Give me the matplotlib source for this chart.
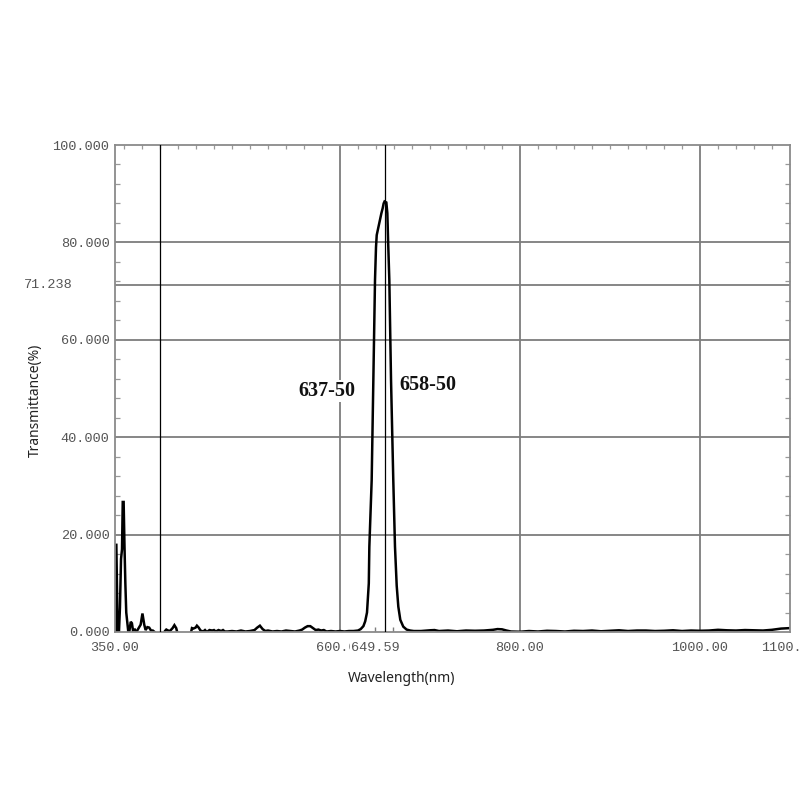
import matplotlib
matplotlib.use("Agg")
import matplotlib.pyplot as plt
import matplotlib.transforms as mtrans
from matplotlib.ticker import MultipleLocator, FixedLocator

# ---------------- data ----------------
wavelength = [350.0, 350.4, 351.5, 352.3, 352.8, 354.4, 355.5, 356.7, 357.8, 358.6, 359.6,
              360.5, 361.5, 362.5, 364.8, 366, 367.5, 368.8, 370, 372, 373.5, 375, 378.5,
              380.5, 382.5, 384, 386, 388, 390, 392, 394, 396, 404, 405.5, 407, 409, 411,
              414, 416, 418, 419.5, 421, 434, 435.5, 437, 439.5, 441, 443, 445, 448, 450,
              452, 455, 458, 460, 462, 465, 468, 470, 472, 475, 480, 485, 490, 495, 500,
              505, 508, 511, 514, 517, 520, 525, 530, 535, 540, 545, 550, 555, 558, 561,
              564, 567, 570, 573, 576, 579, 582, 585, 590, 595, 600, 605, 610, 615, 620,
              623, 626, 628, 630, 632, 632.6, 634, 635.2, 637, 638.9, 640, 640.8, 642.5,
              644.4, 646, 647.4, 648.5, 649.5, 650.5, 651.5, 652.6, 653.5, 654.8, 656.7,
              659.2, 661.1, 663, 664.8, 667, 670.3, 674, 678, 682, 690, 700, 705, 710,
              720, 730, 740, 750, 760, 770, 775, 780, 785, 790, 800, 810, 820, 830, 840,
              850, 860, 870, 880, 890, 900, 910, 920, 930, 940, 950, 960, 970, 980, 990,
              1000, 1010, 1020, 1030, 1040, 1050, 1060, 1070, 1080, 1090, 1100]
transmittance = [0, 17.9, 17.9, 8, 0, 0, 5, 15, 17, 26.7, 26.7,
                 18, 10, 4, 0, 0.2, 2.1, 1.8, 0.3, 0.5, 0, 0.4, 1.5,
                 3.8, 1.5, 0.4, 1.0, 0.9, 0.3, 0.3, 0, -0.5, -0.5, 0.2, 0.5, 0.3, 0.2,
                 0.8, 1.4, 0.8, -0.3, -0.5, -0.5, 0.8, 0.7, 0.9, 1.3, 0.9, 0.3, 0.1, 0.4,
                 0.0, 0.4, 0.3, 0.4, 0.1, 0.4, 0.2, 0.4, 0.1, 0.1, 0.2, 0.1, 0.3, 0.1, 0.2,
                 0.4, 0.9, 1.3, 0.6, 0.2, 0.3, 0.1, 0.2, 0.1, 0.3, 0.2, 0.1, 0.3, 0.5, 0.9,
                 1.2, 1.2, 0.8, 0.4, 0.5, 0.3, 0.4, 0.1, 0.2, 0.1, 0.2, 0.1, 0.2, 0.2, 0.3,
                 0.6, 1.2, 2.2, 4.0, 10, 17.5, 25, 31.2, 51.7, 72.3, 79, 81.5, 83,
                 84.6, 86, 87, 88, 88.4, 88.3, 88.2, 86, 80, 72.3, 51.7,
                 31.2, 17.5, 9.5, 5.2, 2.5, 1.1, 0.5, 0.3, 0.2, 0.2, 0.35, 0.4, 0.2,
                 0.3, 0.15, 0.3, 0.25, 0.3, 0.45, 0.6, 0.55, 0.3, 0.1, 0.05, 0.2, 0.1, 0.25, 0.2,
                 0.1, 0.25, 0.2, 0.3, 0.15, 0.25, 0.35, 0.2, 0.3, 0.3, 0.2, 0.25, 0.35, 0.2, 0.3,
                 0.25, 0.3, 0.45, 0.35, 0.3, 0.4, 0.35, 0.3, 0.45, 0.7, 0.8]

x_ticks = [350, 600, 649.59, 800, 1000, 1100]
x_tick_labels = ["350.00", "600.00", "649.59", "800.00", "1000.00", "1100.00"]
y_ticks = [0, 20, 40, 60, 80, 100]
y_tick_labels = ["0.000", "20.000", "40.000", "60.000", "80.000", "100.000"]
grid_x_gray = [600, 800, 1000]
cursor_x = [400, 649.59]
grid_y = [20, 40, 60, 71.238, 80]
cursor_y_value = 71.238
band_edges = [638.5, 659.0]
annotations = [("637-50", 617.0, 49.5, "right"), ("658-50", 666.5, 50.7, "left")]

# ---------------- figure ----------------
fig = plt.figure(figsize=(8, 8), dpi=100)
fig.patch.set_facecolor("white")
ax = fig.add_axes([115 / 800, 1 - 632 / 800, 675 / 800, 487 / 800])
ax.set_xlim(350, 1100)
ax.set_ylim(0, 100)

gray = "#7d7d7d"
for gy in grid_y:
    ax.axhline(gy, color=gray, lw=1.3, zorder=1)
for gx in grid_x_gray:
    ax.axvline(gx, color=gray, lw=1.3, zorder=1)
for cx in cursor_x:
    ax.axvline(cx, color="black", lw=0.9, zorder=3)

ax.plot(wavelength, transmittance, color="black", lw=1.8, zorder=2, solid_joinstyle="miter")

ax.vlines(band_edges, 0, 0.01, transform=ax.get_xaxis_transform(), color=gray, lw=1.0)

for sp in ax.spines.values():
    sp.set_color("#8a8a8a")
    sp.set_linewidth(1.3)

ax.xaxis.set_major_locator(FixedLocator(x_ticks))
ax.set_xticklabels(x_tick_labels, color="#555555", fontfamily="Liberation Mono", fontsize=9.7)
ax.yaxis.set_major_locator(FixedLocator(y_ticks))
ax.set_yticklabels(y_tick_labels, color="#555555", fontfamily="Liberation Mono", fontsize=9.7)
ax.tick_params(axis="both", which="major", length=0)
ax.tick_params(axis="x", which="major", pad=7)
ax.tick_params(axis="y", which="major", pad=4)

ax.xaxis.set_minor_locator(MultipleLocator(20))
ax.yaxis.set_minor_locator(MultipleLocator(4))
ax.tick_params(axis="x", which="minor", bottom=False, top=True, direction="in",
               length=3, color="#999999", width=0.9)
ax.tick_params(axis="y", which="minor", left=True, right=True, direction="in",
               length=3.5, color="#999999", width=0.9)

# shift the 649.59 label and give it a white background
for lbl in ax.get_xticklabels():
    if lbl.get_text() == "649.59":
        lbl.set_transform(lbl.get_transform() +
                          mtrans.ScaledTranslation(-9 / 100, 0, fig.dpi_scale_trans))
        lbl.set_bbox(dict(facecolor="white", edgecolor="none", pad=0.8))

ax.text(-0.0622, cursor_y_value, "71.238", transform=ax.get_yaxis_transform(),
        ha="right", va="center", color="#555555", family="Liberation Mono", fontsize=9.7,
        clip_on=False)

for txt, xv, yv, ha in annotations:
    ax.text(xv, yv, txt, ha=ha, va="center", family="Liberation Serif",
            fontweight="bold", fontsize=14.5, color="#111111", zorder=4,
            bbox=dict(facecolor="white", edgecolor="none", pad=0.5))

fig.text(35 / 800, 1 - 400 / 800, "Transmittance(%)", rotation=90, ha="center", va="center",
         family="Noto Sans", fontsize=10, color="#222222")
fig.text(402 / 800, 1 - 678 / 800, "Wavelength(nm)", ha="center", va="center",
         family="Noto Sans", fontsize=10, color="#222222")

fig.savefig("out.png", dpi=100, facecolor="white")
